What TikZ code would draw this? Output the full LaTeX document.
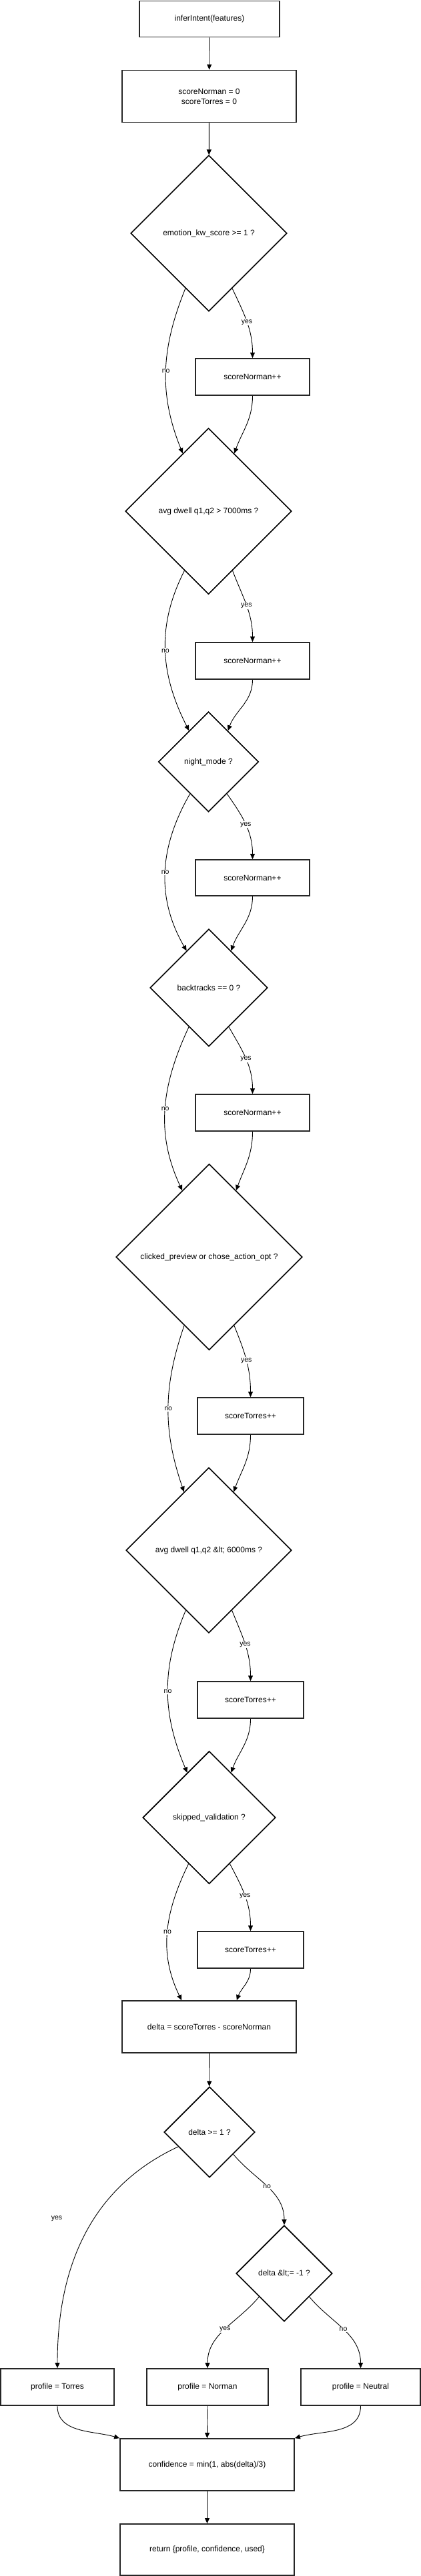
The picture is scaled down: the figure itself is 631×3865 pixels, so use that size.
\documentclass[tikz,border=0pt]{standalone}
\usepackage{fontspec}
\setmainfont{Liberation Sans}
\usetikzlibrary{shapes.geometric, arrows.meta}

\tikzset{
	box/.style={draw=black!85, line width=1.8pt, fill=white, inner sep=0pt, minimum height=55pt, align=center, font=\fontsize{12}{15}\selectfont},
	decision/.style={diamond, draw=black, line width=1.6pt, fill=white, inner sep=0pt, font=\fontsize{12}{15}\selectfont},
	flow/.style={line width=0.9pt, -{Triangle[length=8pt,width=7pt]}},
	lbl/.style={fill=white, inner sep=1pt, font=\fontsize{10.5}{12}\selectfont},
}

\begin{document}
\begin{tikzpicture}[x=1pt, y=1pt]
	\useasboundingbox (0,0) rectangle (631,-3865);
	
	% Entry
	\node[box, minimum width=210pt, minimum height=54pt] (entry) at (314,-28.5) {inferIntent(features)};
	\node[box, minimum width=261pt, minimum height=78pt] (init) at (313.5,-144.5) {scoreNorman = 0\\scoreTorres = 0};
	
	% Norman checks
	\node[decision, minimum size=234pt] (d1) at (313,-350) {emotion\_kw\_score >= 1 ?};
	\node[box, minimum width=171pt] (n1) at (378.5,-565.5) {scoreNorman++};
	\node[decision, minimum size=249pt] (d2) at (312.5,-767) {avg dwell q1,q2 > 7000ms ?};
	\node[box, minimum width=171pt] (n2) at (378.5,-991.5) {scoreNorman++};
	\node[decision, minimum size=150pt] (d3) at (312.5,-1143) {night\_mode ?};
	\node[box, minimum width=171pt, minimum height=54pt] (n3) at (378.5,-1317) {scoreNorman++};
	\node[decision, minimum size=176pt] (d4) at (313,-1482) {backtracks == 0 ?};
	\node[box, minimum width=171pt] (n4) at (378.5,-1669.5) {scoreNorman++};
	
	% Torres checks
	\node[decision, minimum size=279pt] (d5) at (313.5,-1886) {clicked\_preview or chose\_action\_opt ?};
	\node[box, minimum width=159pt] (t1) at (375.5,-2124.5) {scoreTorres++};
	\node[decision, minimum size=248pt] (d6) at (313,-2326) {avg dwell q1,q2 \&lt; 6000ms ?};
	\node[box, minimum width=159pt] (t2) at (375.5,-2550.5) {scoreTorres++};
	\node[decision, minimum size=199pt] (d7) at (313.5,-2727) {skipped\_validation ?};
	\node[box, minimum width=159pt] (t3) at (375.5,-2925.5) {scoreTorres++};
	
	% Decision on delta
	\node[box, minimum width=261pt, minimum height=78pt] (delta) at (313.5,-3041) {delta = scoreTorres - scoreNorman};
	\node[decision, minimum size=136pt] (d8) at (314,-3199) {delta >= 1 ?};
	\node[decision, minimum size=144pt] (d9) at (426,-3411) {delta \&lt;= -1 ?};
	\node[box, minimum width=170pt] (pT) at (86,-3581.5) {profile = Torres};
	\node[box, minimum width=182pt] (pN) at (311,-3581.5) {profile = Norman};
	\node[box, minimum width=179pt] (pU) at (540.5,-3581.5) {profile = Neutral};
	\node[box, minimum width=261pt, minimum height=78pt] (conf) at (310.5,-3698) {confidence = min(1, abs(delta)/3)};
	\node[box, minimum width=261pt, minimum height=77pt] (ret) at (310.5,-3825.5) {return \{profile, confidence, used\}};
	
	% Connectors
	\draw[flow] (entry) -- (init);
	\draw[flow] (init) -- (d1);
	
	\draw[flow] (d1.293) to[out=-65, in=90] node[lbl] {yes} (n1.north);
	\draw[flow] (d1.247) to[out=248, in=112] node[lbl] {no} (d2.114);
	\draw[flow] (n1.south) to[out=-90, in=70] (d2.66);
	
	\draw[flow] (d2.292) to[out=-69, in=90] node[lbl] {yes} (n2.north);
	\draw[flow] (d2.248) to[out=243, in=117] node[lbl] {no} (d3.122);
	\draw[flow] (n2.south) to[out=-90, in=70] (d3.58);
	
	\draw[flow] (d3.300) to[out=-55, in=90] node[lbl] {yes} (n3.north);
	\draw[flow] (d3.240) to[out=240, in=120] node[lbl] {no} (d4.121);
	\draw[flow] (n3.south) to[out=-90, in=70] (d4.59);
	
	\draw[flow] (d4.297) to[out=-60, in=90] node[lbl] {yes} (n4.north);
	\draw[flow] (d4.243) to[out=245, in=115] node[lbl] {no} (d5.112);
	\draw[flow] (n4.south) to[out=-90, in=70] (d5.68);
	
	\draw[flow] (d5.290) to[out=-68, in=90] node[lbl] {yes} (t1.north);
	\draw[flow] (d5.250) to[out=251, in=109] node[lbl] {no} (d6.113);
	\draw[flow] (t1.south) to[out=-90, in=70] (d6.67);
	
	\draw[flow] (d6.291) to[out=-68, in=90] node[lbl] {yes} (t2.north);
	\draw[flow] (d6.249) to[out=247, in=113] node[lbl] {no} (d7.116);
	\draw[flow] (t2.south) to[out=-90, in=70] (d7.64);
	
	\draw[flow] (d7.294) to[out=-62, in=90] node[lbl] {yes} (t3.north);
	\draw[flow] (d7.246) to[out=244, in=116] node[lbl] {no} (delta.136);
	\draw[flow] (t3.south) to[out=-90, in=70] (delta.44);
	
	\draw[flow] (delta) -- (d8);
	\draw[flow] (d8.205) to[out=205, in=90] (pT.north);
	\node[lbl] (yT) at (85,-3329) {yes};
	\draw[flow] (d8.317) to[out=-50, in=90] node[lbl] {no} (d9.north);
	\draw[flow] (d9.223) to[out=230, in=90] node[lbl] {yes} (pN.north);
	\draw[flow] (d9.317) to[out=-50, in=90] node[lbl] {no} (pU.north);
	
	\draw[flow] (pT.south) to[out=-90, in=164] (conf.north west);
	\draw[flow] (pN.south) -- (conf.north);
	\draw[flow] (pU.south) to[out=-90, in=16] (conf.north east);
	\draw[flow] (conf) -- (ret);
	
\end{tikzpicture}
\end{document}
